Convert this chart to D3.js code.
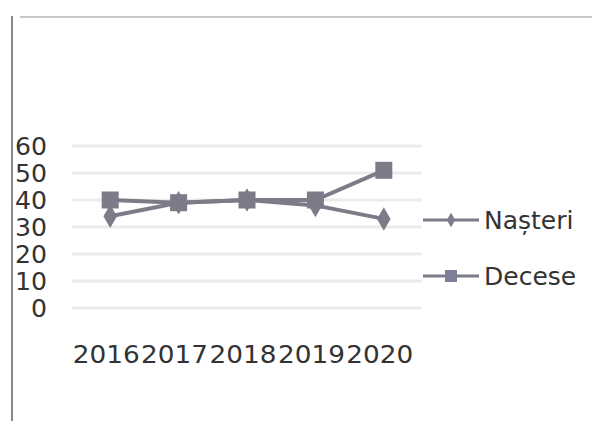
<!DOCTYPE html>
<html>
<head>
<meta charset="utf-8">
<script src="https://cdn.jsdelivr.net/npm/d3@7"></script>
<style>
  body { margin: 0; background: #fff; }
  text { font-family: "DejaVu Sans", sans-serif; fill: #333; }
</style>
</head>
<body>
<div id="chart"></div>
<script>
// data
var years   = [ '2016', '2017', '2018', '2019', '2020' ];
var nasteri = [ 34, 39, 40, 38, 33 ];
var decese  = [ 40, 39, 40, 40, 51 ];
var yTicks  = [ 0, 10, 20, 30, 40, 50, 60 ];
var seriesNames = [ 'Nașteri', 'Decese' ];

var width = 601;
var height = 421;
var lineColor = '#7c7c88';

var svg = d3.select( '#chart' )
            .append( 'svg' )
            .attr( 'width', width )
            .attr( 'height', height );

// frame
svg.append( 'line' )
   .attr( 'x1', 12 ).attr( 'y1', 16 ).attr( 'x2', 12 ).attr( 'y2', 421 )
   .attr( 'stroke', '#8a8a8a' ).attr( 'stroke-width', 2 );
svg.append( 'line' )
   .attr( 'x1', 20 ).attr( 'y1', 17 ).attr( 'x2', 592 ).attr( 'y2', 17 )
   .attr( 'stroke', '#c8c8c8' ).attr( 'stroke-width', 2 );

// scales
var x = d3.scaleBand()
          .domain( years )
          .range( [ 76, 418 ] );

var y = d3.scaleLinear()
          .domain( [ 0, 60 ] )
          .range( [ 308, 146 ] );

// grid
svg.append( 'g' )
   .selectAll( 'line' )
   .data( yTicks )
   .enter()
   .append( 'line' )
   .attr( 'x1', 72 )
   .attr( 'x2', 422 )
   .attr( 'y1', function( d ) { return y( d ); } )
   .attr( 'y2', function( d ) { return y( d ); } )
   .attr( 'stroke', '#ebebeb' )
   .attr( 'stroke-width', 3 );

// y axis labels
svg.append( 'g' )
   .selectAll( 'text' )
   .data( yTicks )
   .enter()
   .append( 'text' )
   .attr( 'x', 47 )
   .attr( 'y', function( d ) { return y( d ); } )
   .attr( 'dy', '0.36em' )
   .attr( 'text-anchor', 'end' )
   .attr( 'textLength', function( d ) { return String( d ).length * 16; } )
   .attr( 'lengthAdjust', 'spacingAndGlyphs' )
   .style( 'font-size', '24px' )
   .text( function( d ) { return d; } );

// x axis labels
svg.append( 'g' )
   .selectAll( 'text' )
   .data( years )
   .enter()
   .append( 'text' )
   .attr( 'x', function( d ) { return x( d ) + x.bandwidth() / 2 - 4; } )
   .attr( 'y', 363 )
   .attr( 'text-anchor', 'middle' )
   .attr( 'textLength', 67 )
   .attr( 'lengthAdjust', 'spacingAndGlyphs' )
   .style( 'font-size', '25px' )
   .text( function( d ) { return d; } );

var cx = function( d, i ) { return x( years[ i ] ) + x.bandwidth() / 2; };
var line = d3.line()
             .x( cx )
             .y( function( d ) { return y( d ); } );

var squareSize = 17;
var diamond = d3.symbol().type( d3.symbolDiamond ).size( 160 );

// decese series
svg.append( 'path' )
   .datum( decese )
   .attr( 'd', line )
   .attr( 'fill', 'none' )
   .attr( 'stroke', lineColor )
   .attr( 'stroke-width', 4 );

svg.append( 'g' )
   .selectAll( 'rect' )
   .data( decese )
   .enter()
   .append( 'rect' )
   .attr( 'x', function( d, i ) { return cx( d, i ) - squareSize / 2; } )
   .attr( 'y', function( d ) { return y( d ) - squareSize / 2; } )
   .attr( 'width', squareSize )
   .attr( 'height', squareSize )
   .attr( 'fill', lineColor );

// nasteri series
svg.append( 'path' )
   .datum( nasteri )
   .attr( 'd', line )
   .attr( 'fill', 'none' )
   .attr( 'stroke', lineColor )
   .attr( 'stroke-width', 4 );

svg.append( 'g' )
   .selectAll( 'path' )
   .data( nasteri )
   .enter()
   .append( 'path' )
   .attr( 'd', diamond )
   .attr( 'transform', function( d, i ) {
       return 'translate(' + cx( d, i ) + ',' + y( d ) + ')';
   })
   .attr( 'fill', lineColor );

// legend
var legendY = [ 220, 276 ];
seriesNames.forEach( function( name, i ) {
    var g = svg.append( 'g' )
               .attr( 'transform', 'translate(423,' + legendY[ i ] + ')' );
    g.append( 'line' )
     .attr( 'x1', 0 ).attr( 'x2', 56 )
     .attr( 'y1', 0 ).attr( 'y2', 0 )
     .attr( 'stroke', lineColor )
     .attr( 'stroke-width', 3 );
    if( i == 0 ) {
        g.append( 'path' )
         .attr( 'd', d3.symbol().type( d3.symbolDiamond ).size( 60 ) )
         .attr( 'transform', 'translate(28,0)' )
         .attr( 'fill', lineColor );
    }
    else {
        g.append( 'rect' )
         .attr( 'x', 22 ).attr( 'y', -6 )
         .attr( 'width', 12 ).attr( 'height', 12 )
         .attr( 'fill', '#7e7e94' );
    }
    g.append( 'text' )
     .attr( 'x', 61 )
     .attr( 'y', 0 )
     .attr( 'dy', '0.36em' )
     .style( 'font-size', '25px' )
     .text( name );
});
</script>
</body>
</html>
